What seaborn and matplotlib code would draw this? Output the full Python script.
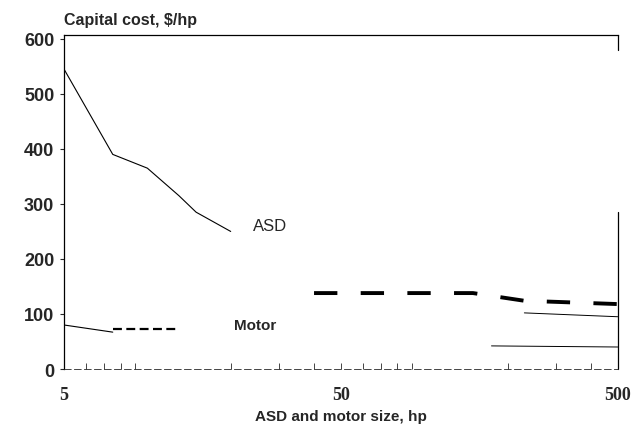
import matplotlib
matplotlib.use("Agg")
import matplotlib.pyplot as plt
import seaborn as sns
import pandas as pd
import numpy as np

# ASD capital cost ($/hp) vs size (hp)
asd_hp = [5, 7.5, 10, 13, 15, 20]
asd_cost = [545, 390, 365, 315, 285, 250]
asd_hp_ext = [40, 100, 150, 230, 300, 500]
asd_cost_ext = [138, 138, 138, 124, 122, 118]

# Motor capital cost ($/hp)
motor_hp = [5, 7.5]
motor_cost = [80, 67]
motor_hp_ext = [7.5, 13]
motor_cost_ext = [73, 73]

# faint lines near the right edge
upper_hp = [230, 500]
upper_cost = [102, 95]
lower_hp = [175, 500]
lower_cost = [42, 40]

sns.set_style("ticks")
plt.rcParams["font.family"] = ["Liberation Sans", "DejaVu Sans"]

fig = plt.figure(figsize=(6.35, 4.31), dpi=100)
ax = fig.add_axes([0.1008, 0.1415, 0.872, 0.775])

sns.lineplot(x=asd_hp, y=asd_cost, color="black", lw=0.8, ax=ax)
sns.lineplot(x=asd_hp_ext, y=asd_cost_ext, color="black", lw=2.8, ax=ax,
             linestyle=(0, (6, 6)))
sns.lineplot(x=motor_hp, y=motor_cost, color="black", lw=0.8, ax=ax)
sns.lineplot(x=motor_hp_ext, y=motor_cost_ext, color="black", lw=1.6, ax=ax,
             linestyle=(0, (4, 2)))
sns.lineplot(x=upper_hp, y=upper_cost, color="black", lw=0.7, ax=ax)
sns.lineplot(x=lower_hp, y=lower_cost, color="black", lw=0.7, ax=ax)

ax.set_xscale("log")
ax.set_xlim(5, 500)
ax.set_ylim(0, 607)

ax.set_yticks([0, 100, 200, 300, 400, 500, 600])
ax.set_yticklabels(["0", "100", "200", "300", "400", "500", "600"],
                   fontsize=13, fontweight="bold")
ax.set_xticks([5, 50, 500])
ax.set_xticklabels(["5", "50", "500"], fontsize=13, fontweight="bold",
                   family="Liberation Serif")
ax.xaxis.set_minor_locator(matplotlib.ticker.LogLocator(subs=np.arange(2, 10)))
ax.xaxis.set_minor_formatter(matplotlib.ticker.NullFormatter())
ax.tick_params(axis="x", which="both", direction="in", length=4, width=0.6, pad=12)
ax.tick_params(axis="y", length=3, width=0.8, pad=4)

for s in ["left", "top"]:
    ax.spines[s].set_visible(True)
    ax.spines[s].set_linewidth(0.9)
    ax.spines[s].set_color("black")
ax.spines["right"].set_visible(False)
ax.spines["bottom"].set_linewidth(0.6)
ax.spines["bottom"].set_linestyle((0, (8, 4)))

# broken right edge, as in the scan
ax.axvline(500, ymin=0, ymax=0.47, color="black", lw=0.9, clip_on=False)
ax.axvline(500, ymin=0.955, ymax=1, color="black", lw=0.9, clip_on=False)

ax.set_xlabel("ASD and motor size, hp", fontsize=11, fontweight="bold")
ax.xaxis.set_label_coords(0.5, -0.12)
ax.set_ylabel("")
fig.text(0.101, 0.935, "Capital cost, $/hp", fontsize=11.5, fontweight="bold",
         ha="left", va="bottom")

ax.text(24, 260, "ASD", fontsize=12, ha="left", va="center")
ax.text(20.5, 80, "Motor", fontsize=11, fontweight="bold", ha="left", va="center")

fig.savefig("out.png", dpi=100)
